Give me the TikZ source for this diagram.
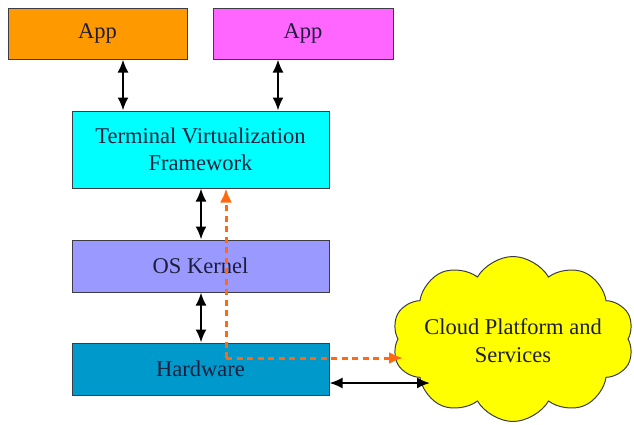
\documentclass[tikz,border=0pt]{standalone}
\usepackage{fontspec}
\setmainfont{Liberation Serif}
\usetikzlibrary{shapes.symbols,arrows.meta,calc}
\definecolor{apporange}{HTML}{FF9900}
\definecolor{appmagenta}{HTML}{FF66FF}
\definecolor{tvfcyan}{HTML}{00FFFF}
\definecolor{oslav}{HTML}{9999FF}
\definecolor{hwblue}{HTML}{0099CC}
\definecolor{cloudyellow}{HTML}{FFFF00}
\definecolor{txt}{HTML}{1E1E3C}
\definecolor{edge}{HTML}{3C3C46}
\definecolor{dashorange}{HTML}{FF6A10}
\tikzset{
  layerbox/.style={draw=edge, line width=1pt, rectangle, inner sep=0pt, text=txt,
    font=\fontsize{22.5}{27}\selectfont, align=center},
  dbl/.style={line width=2pt, black, {Latex[length=13pt,width=11pt]}-{Latex[length=13pt,width=11pt]}},
  odash/.style={line width=3pt, dashorange, dash pattern=on 6pt off 4.5pt, -{Latex[length=14pt,width=12pt]}},
}
\begin{document}
\begin{tikzpicture}[x=1pt,y=-1pt]
\useasboundingbox (0,0) rectangle (634,424);
\clip (0,0) rectangle (634,424);
\node[layerbox, fill=apporange, minimum width=179pt, minimum height=51pt] (app1) at (97.5,33.5) {App};
\node[layerbox, fill=appmagenta, minimum width=180pt, minimum height=51pt] (app2) at (303,33.5) {App};
\node[layerbox, fill=tvfcyan, minimum width=257pt, minimum height=77pt] (tvf) at (200.5,149.5) {Terminal Virtualization\\Framework};
\node[layerbox, fill=oslav, minimum width=257pt, minimum height=52pt] (os) at (200.5,266) {OS Kernel};
\node[layerbox, fill=hwblue, minimum width=257pt, minimum height=52pt] (hw) at (200.5,369) {Hardware};
\node[cloud, cloud puffs=10, cloud puff arc=120, draw=edge, line width=1pt, fill=cloudyellow,
  minimum width=242pt, minimum height=165pt, text=txt, inner sep=0pt,
  font=\fontsize{22.5}{28}\selectfont] (cloud) at (513,339)
  {\smash{\makebox[0pt]{\raisebox{-9pt}{\begin{tabular}{@{}c@{}}Cloud Platform and\\Services\end{tabular}}}}};
\coordinate (a1) at ($(app1.south)+(25.5,0)$);
\coordinate (a2) at ($(app2.south)+(-25,0)$);
\draw[dbl] (a1) -- (a1 |- tvf.north);
\draw[dbl] (a2) -- (a2 |- tvf.north);
\coordinate (k1) at ($(tvf.south)+(0.5,0)$);
\draw[dbl] (k1) -- (k1 |- os.north);
\coordinate (k2) at ($(os.south)+(0.5,0)$);
\draw[dbl] (k2) -- (k2 |- hw.north);
\coordinate (o1) at (226,358);
\coordinate (c1) at (403,358);
\draw[odash] (o1) -- (o1 |- tvf.south);
\draw[odash] (o1) -- (c1);
\coordinate (h1) at ($(hw.east)+(0,14)$);
\coordinate (c2) at (430,383);
\draw[dbl] (h1) -- (c2);
\end{tikzpicture}
\end{document}
